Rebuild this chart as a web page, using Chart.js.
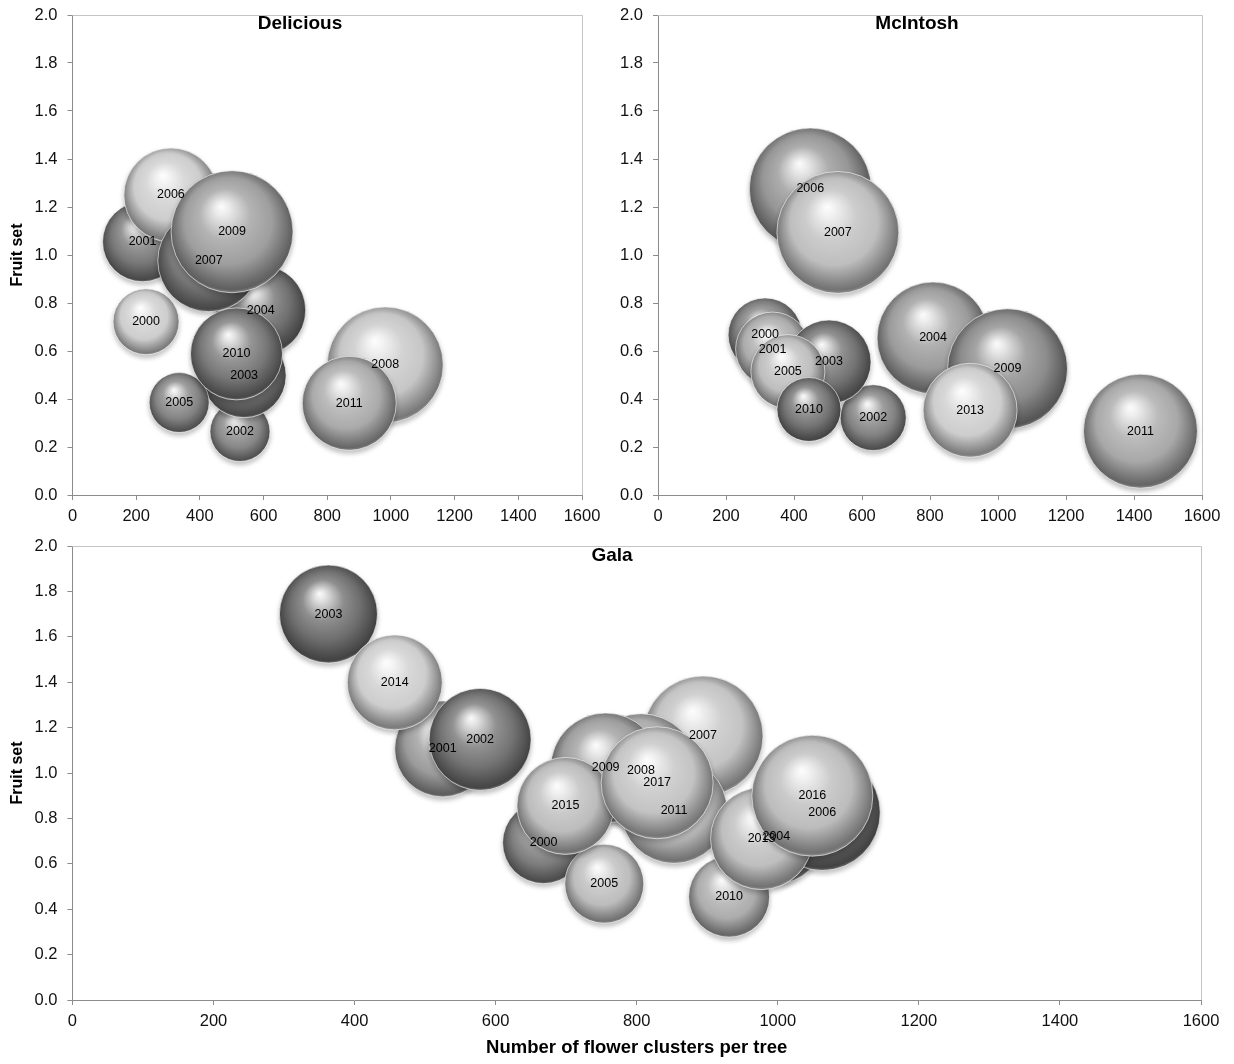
<!DOCTYPE html>
<html><head><meta charset="utf-8">
<script src="https://cdn.jsdelivr.net/npm/chart.js@4.4.1/dist/chart.umd.min.js"></script>
<style>
html,body{margin:0;padding:0;background:#fff;}
body{width:1234px;height:1064px;position:relative;overflow:hidden;}
canvas{position:absolute;display:block;}
</style></head><body>
<canvas id="c1" width="600" height="530" style="left:0;top:0"></canvas>
<canvas id="c2" width="634" height="530" style="left:600px;top:0"></canvas>
<canvas id="c3" width="1234" height="534" style="left:0;top:530px"></canvas>
<script>
// ---------------- DATA ----------------
const xTickValues = [0, 200, 400, 600, 800, 1000, 1200, 1400, 1600];
const yTickValues = [0.0, 0.2, 0.4, 0.6, 0.8, 1.0, 1.2, 1.4, 1.6, 1.8, 2.0];

const delTitle = 'Delicious';
const delYears    = ['2000','2001','2002','2003','2004','2005','2006','2007','2008','2009','2010','2011'];
const delClusters = [231, 220, 526, 539, 591, 335, 309, 428, 982, 501, 515, 869];
const delFruitSet = [0.722, 1.055, 0.264, 0.497, 0.770, 0.385, 1.250, 0.976, 0.542, 1.097, 0.588, 0.382];
const delSize     = [33, 40, 30, 42, 45, 30, 47, 51, 58, 61, 46, 47];

const mciTitle = 'McIntosh';
const mciYears    = ['2000','2001','2002','2003','2004','2005','2006','2007','2009','2010','2011','2013'];
const mciClusters = [315, 337, 633, 503, 809, 382, 448, 529, 1028, 444, 1419, 918];
const mciFruitSet = [0.667, 0.608, 0.322, 0.554, 0.654, 0.514, 1.275, 1.094, 0.526, 0.356, 0.266, 0.353];
const mciSize     = [37, 37, 33, 42, 56, 37, 61, 61, 60, 32, 57, 47];

const galTitle = 'Gala';
const galYears    = ['2000','2001','2002','2003','2004','2005','2006','2007','2008','2009','2010','2011','2013','2014','2015','2016','2017'];
const galClusters = [668, 525, 578, 363, 998, 754, 1063, 894, 806, 756, 931, 853, 977, 457, 699, 1049, 829];
const galFruitSet = [0.693, 1.106, 1.148, 1.700, 0.719, 0.512, 0.826, 1.163, 1.010, 1.022, 0.455, 0.835, 0.711, 1.399, 0.855, 0.900, 0.957];
const galSize     = [41, 48, 51, 49, 47, 39.5, 58, 60, 57, 55, 40.5, 53, 51, 47.5, 48.5, 60.5, 56];

const xAxisTitle = 'Number of flower clusters per tree';
const yAxisTitle = 'Fruit set';

// ---------------- STYLE ----------------
const delTone = [205, 120, 135, 118, 112, 132, 205, 118, 198, 158, 120, 170];
const mciTone = [130, 172, 130, 115, 155, 190, 150, 190, 140, 115, 168, 205];
const galTone = [125, 155, 115, 110, 155, 188, 110, 195, 172, 158, 172, 188, 190, 205, 188, 188, 195];

const FONT = "'Liberation Sans', Arial, Helvetica, sans-serif";
Chart.defaults.font.family = FONT;
Chart.defaults.color = '#000';

function gray(v){ v = Math.max(0, Math.min(255, Math.round(v))); return 'rgb(' + v + ',' + v + ',' + v + ')'; }
function mix(a, b, f){ return a + (b - a) * f; }

function sphere(tones){
  return function(ctx){
    const chart = ctx.chart;
    if (ctx.type !== 'data' || !chart.chartArea) return gray(140);
    const raw = ctx.raw;
    const x = chart.scales.x.getPixelForValue(raw.x);
    const y = chart.scales.y.getPixelForValue(raw.y);
    const r = raw.r;
    const t = tones[ctx.dataIndex];
    const g = chart.ctx.createRadialGradient(x - 0.18*r, y - 0.42*r, 0, x, y - 0.05*r, 1.1*r);
    g.addColorStop(0.00, gray(mix(t, 255, 0.97)));
    g.addColorStop(0.10, gray(mix(t, 255, 0.8)));
    g.addColorStop(0.38, gray(mix(t, 255, 0.22)));
    g.addColorStop(0.65, gray(t));
    g.addColorStop(0.87, gray(t * 0.68));
    g.addColorStop(0.93, gray(t * 0.6));
    g.addColorStop(1.00, gray(mix(t * 0.65, 255, 0.45)));
    return g;
  };
}

const boxPlugin = {
  id: 'box',
  beforeDatasetsDraw(chart){
    const a = chart.chartArea, c = chart.ctx;
    c.save();
    c.strokeStyle = '#c4c4c4'; c.lineWidth = 1;
    c.beginPath();
    c.moveTo(a.left, Math.round(a.top) + 0.5); c.lineTo(Math.round(a.right) + 0.5, Math.round(a.top) + 0.5); c.lineTo(Math.round(a.right) + 0.5, a.bottom);
    c.stroke();
    c.restore();
  }
};
const shadowPlugin = {
  id: 'shadow',
  beforeDatasetsDraw(chart){
    const c = chart.ctx;
    c.save();
    c.shadowColor = 'rgba(0,0,0,0.25)';
    c.shadowBlur = 5;
    c.shadowOffsetY = 3;
  },
  afterDatasetsDraw(chart){ chart.ctx.restore(); }
};
const labelPlugin = {
  id: 'yearLabels',
  afterDatasetsDraw(chart){
    const c = chart.ctx;
    c.save();
    c.font = '12.5px ' + FONT;
    c.fillStyle = '#000';
    c.textAlign = 'center';
    c.textBaseline = 'middle';
    chart.data.datasets.forEach((ds, di) => {
      chart.getDatasetMeta(di).data.forEach((el, i) => {
        c.fillText(ds.yearLabels[i], el.x, el.y);
      });
    });
    c.restore();
  }
};
const titlePlugin = {
  id: 'panelTitle',
  afterDraw(chart, args, opts){
    const c = chart.ctx;
    c.save();
    c.font = 'bold 19px ' + FONT;
    c.fillStyle = '#000';
    c.textAlign = 'center';
    c.textBaseline = 'middle';
    c.fillText(opts.text, chart.width / 2 + (opts.dx || 0), opts.y);
    c.restore();
  }
};

function makeChart(id, title, years, xs, ys, sizes, tones, cfg){
  const pts = years.map((yr, i) => ({x: xs[i], y: ys[i], r: sizes[i]}));
  return new Chart(document.getElementById(id), {
    type: 'bubble',
    data: { datasets: [{
      data: pts,
      yearLabels: years,
      backgroundColor: sphere(tones),
      borderColor: 'rgba(255,255,255,0.75)',
      borderWidth: 0.8,
      hoverRadius: 0,
      clip: false
    }]},
    options: {
      responsive: false,
      animation: false,
      events: [],
      layout: { padding: cfg.padding, autoPadding: false },
      plugins: {
        legend: { display: false },
        tooltip: { enabled: false },
        panelTitle: { text: title, y: cfg.titleY, dx: cfg.titleDx || 0 }
      },
      scales: {
        x: {
          type: 'linear', min: 0, max: 1600,
          afterBuildTicks: s => { s.ticks = xTickValues.map(v => ({value: v})); },
          afterFit: s => { s.height = cfg.xHeight; s.paddingLeft = 0; s.paddingRight = 0; },
          ticks: { font: { size: 16.5 }, color: '#111', padding: 7, maxRotation: 0, autoSkip: false, callback: v => String(v) },
          grid: { display: true, drawOnChartArea: false, drawTicks: true, tickLength: 5, color: '#8c8c8c' },
          border: { display: true, color: '#8c8c8c' },
          title: cfg.xTitle ? { display: true, text: xAxisTitle, font: { size: 18.5, weight: 'bold' }, color: '#000', padding: { top: 0, bottom: 5 } } : { display: false }
        },
        y: {
          type: 'linear', min: 0, max: 2,
          afterBuildTicks: s => { s.ticks = yTickValues.map(v => ({value: v})); },
          afterFit: s => { s.width = cfg.yWidth; s.paddingTop = 0; s.paddingBottom = 0; },
          ticks: { font: { size: 16.5 }, color: '#111', padding: 10, autoSkip: false, callback: v => Number(v).toFixed(1) },
          grid: { display: true, drawOnChartArea: false, drawTicks: true, tickLength: 5, color: '#8c8c8c' },
          border: { display: true, color: '#8c8c8c' },
          title: cfg.yTitle ? { display: true, text: yAxisTitle, font: { size: 16, weight: 'bold' }, color: '#000', padding: { top: 8, bottom: 0 } } : { display: false }
        }
      }
    },
    plugins: [boxPlugin, shadowPlugin, labelPlugin, titlePlugin]
  });
}

makeChart('c1', delTitle, delYears, delClusters, delFruitSet, delSize, delTone,
  { padding: { top: 15, right: 18, bottom: 0, left: 0 }, xHeight: 35, yWidth: 72.5, yTitle: true, xTitle: false, titleY: 24 });
makeChart('c2', mciTitle, mciYears, mciClusters, mciFruitSet, mciSize, mciTone,
  { padding: { top: 15, right: 32, bottom: 0, left: 0 }, xHeight: 35, yWidth: 58, yTitle: false, xTitle: false, titleY: 24 });
makeChart('c3', galTitle, galYears, galClusters, galFruitSet, galSize, galTone,
  { padding: { top: 16, right: 33, bottom: 0, left: 0 }, xHeight: 64, yWidth: 72.4, yTitle: true, xTitle: true, titleY: 26, titleDx: -5 });
</script>
</body></html>
